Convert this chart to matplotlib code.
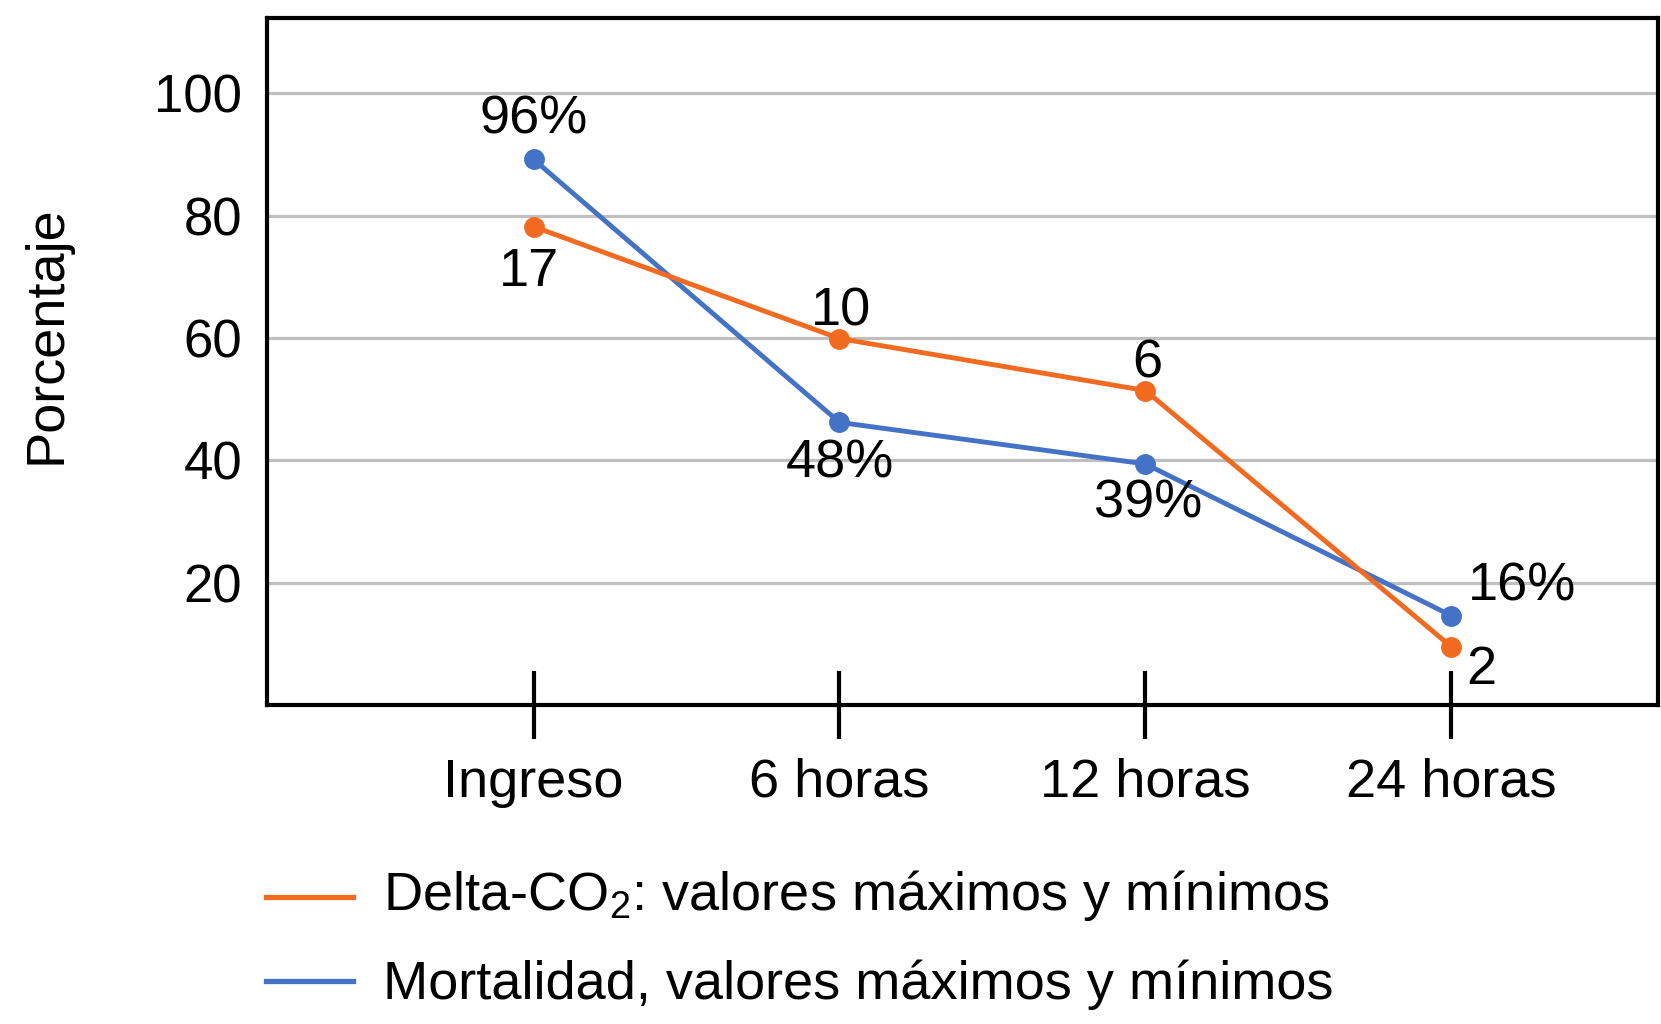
import matplotlib
matplotlib.use("Agg")
import matplotlib.pyplot as plt
from matplotlib.lines import Line2D

plt.rcParams['font.family'] = ['Liberation Sans', 'DejaVu Sans']
plt.rcParams['mathtext.fontset'] = 'custom'
plt.rcParams['mathtext.rm'] = 'Liberation Sans'
plt.rcParams['mathtext.it'] = 'Liberation Sans:italic'
plt.rcParams['mathtext.bf'] = 'Liberation Sans:bold'

# ---- data ----
categories = ["Ingreso", "6 horas", "12 horas", "24 horas"]
mortalidad = [89.2, 46.2, 39.4, 14.6]
mortalidad_labels = ["96%", "48%", "39%", "16%"]
delta_co2 = [78.2, 59.9, 51.4, 9.5]
delta_labels = ["17", "10", "6", "2"]
yticks = [20, 40, 60, 80, 100]
legend_labels = [r"Delta-C$\mathrm{O_2}$: valores máximos y mínimos",
                 "Mortalidad, valores máximos y mínimos"]

orange = "#F26A1F"
blue = "#4472C6"
FS = 39
FS_Y = 38

W, H = 1661, 1024
fig = plt.figure(figsize=(W / 100, H / 100), dpi=100)
ax = fig.add_axes([267 / W, 1 - 705 / H, (1658 - 267) / W, (705 - 18) / H])

x = list(range(len(categories)))

ax.plot(x, mortalidad, color=blue, lw=3.5, marker='o', markersize=14,
        zorder=3, solid_capstyle='round')
ax.plot(x, delta_co2, color=orange, lw=3.5, marker='o', markersize=14,
        zorder=4, solid_capstyle='round')

# data labels (offsets in points)
m_off = [(0, 18.7, 'center'), (0, -39.6, 'center'), (2, -38.9, 'center'), (12, 10.8, 'left')]
d_off = [(-3, -42.5, 'center'), (1, 9.4, 'center'), (1, 9.4, 'center'), (10.8, -26.6, 'left')]
for xi, yi, lab, (dx, dy, ha) in zip(x, mortalidad, mortalidad_labels, m_off):
    ax.annotate(lab, (xi, yi), xytext=(dx, dy), textcoords='offset points',
                ha=ha, va='baseline', fontsize=FS, zorder=5)
for xi, yi, lab, (dx, dy, ha) in zip(x, delta_co2, delta_labels, d_off):
    ax.annotate(lab, (xi, yi), xytext=(dx, dy), textcoords='offset points',
                ha=ha, va='baseline', fontsize=FS, zorder=5)

ax.set_xlim(-0.871, 3.675)
ax.set_ylim(0, 112.3)
ax.set_yticks(yticks)
ax.set_yticklabels([str(v) for v in yticks])
ax.set_xticks(x)
ax.set_xticklabels(categories)

ax.tick_params(axis='y', length=0, pad=18, labelsize=FS_Y)
ax.tick_params(axis='x', direction='inout', length=49, width=3, pad=13.5,
               labelsize=FS, color='black')

ax.grid(axis='y', color='#BFBFBF', lw=2.3, zorder=0)
ax.grid(axis='x', visible=False)
ax.set_axisbelow(True)
for s in ax.spines.values():
    s.set_linewidth(3)
    s.set_color('black')

# y-axis label
fig.text(21 / W, 1 - 335 / H, "Porcentaje", rotation=90, ha='left', va='center',
         fontsize=FS)

# legend (manual)
for col, lab, ly, by in [(orange, legend_labels[0], 897, 910),
                          (blue, legend_labels[1], 981, 999)]:
    fig.add_artist(Line2D([266 / W, 353 / W], [1 - ly / H, 1 - ly / H],
                          color=col, lw=3.8, transform=fig.transFigure))
    fig.text(383 / W, 1 - by / H, lab, ha='left', va='baseline', fontsize=FS)

fig.savefig("out.png", dpi=100, facecolor='white')
